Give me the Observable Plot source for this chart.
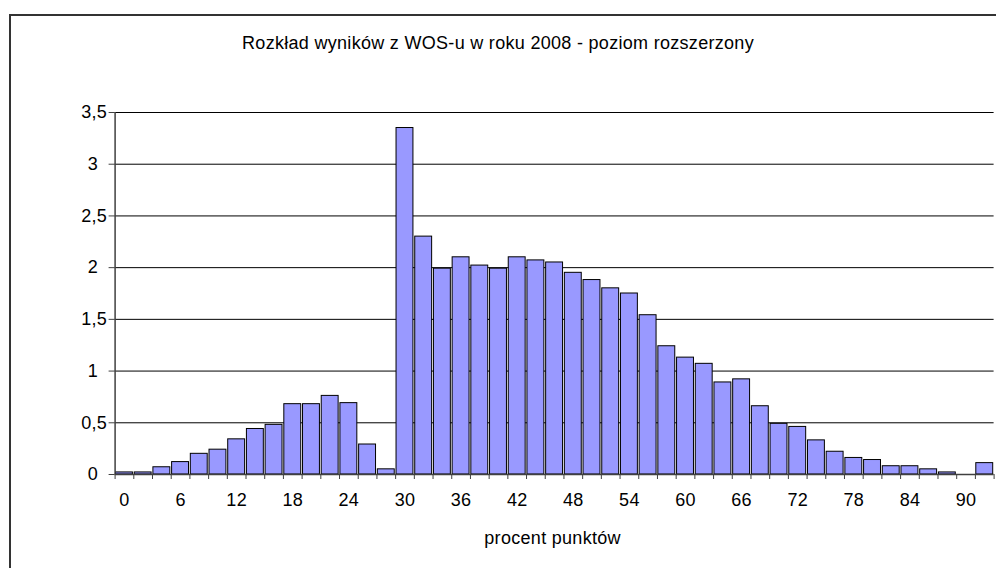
<!DOCTYPE html>
<html>
<head>
<meta charset="utf-8">
<script src="https://cdn.jsdelivr.net/npm/d3@7"></script>
<script src="https://cdn.jsdelivr.net/npm/@observablehq/plot@0.6"></script>
<style>
  body { margin: 0; background: #fff; }
  #wrap { position: relative; width: 996px; height: 568px; overflow: hidden; }
  #frame { position: absolute; left: 9px; top: 14px; right: -10px; bottom: -10px;
           border-left: 2px solid #333; border-top: 2px solid #333; pointer-events: none; }
  #wrap svg text { letter-spacing: 0.3px; }
</style>
</head>
<body>
<div id="wrap"><div id="frame"></div></div>
<script>
const chartTitle = "Rozkład wyników z WOS-u w roku 2008 - poziom rozszerzony";
const xAxisLabel = "procent punktów";

// categories: percent of points (bars every 2%)
const percents = [0, 2, 4, 6, 8, 10, 12, 14, 16, 18, 20, 22, 24, 26, 28, 30, 32, 34, 36, 38,
                  40, 42, 44, 46, 48, 50, 52, 54, 56, 58, 60, 62, 64, 66, 68, 70, 72, 74, 76, 78,
                  80, 82, 84, 86, 88, 90, 92];
// share of students (%)
const shares = [0.02, 0.02, 0.07, 0.12, 0.20, 0.24, 0.34, 0.44, 0.48, 0.68, 0.68, 0.76, 0.69, 0.29, 0.05,
                3.35, 2.30, 1.99, 2.10, 2.02, 1.99, 2.10, 2.07, 2.05, 1.95, 1.88, 1.80, 1.75, 1.54, 1.24,
                1.13, 1.07, 0.89, 0.92, 0.66, 0.49, 0.46, 0.33, 0.22, 0.16, 0.14, 0.08, 0.08, 0.05, 0.02,
                0, 0.11];

const xTickLabels = [0, 6, 12, 18, 24, 30, 36, 42, 48, 54, 60, 66, 72, 78, 84, 90];
const yTicks = [0, 0.5, 1, 1.5, 2, 2.5, 3, 3.5];

const data = percents.map((p, i) => ({p, v: shares[i]}));
const half = 1; // half-width of a category, in percent
const boundaries = [percents[0] - half, ...percents.map(p => p + half)];
const xMin = percents[0] - half, xMax = percents[percents.length - 1] + half;
const fmt = d => String(d).replace(".", ",");
const FS = 18;

const chart = Plot.plot({
  width: 996,
  height: 568,
  marginLeft: 114.6,
  marginRight: 2.4,
  marginTop: 112,
  marginBottom: 94,
  style: {fontFamily: "'Liberation Sans', Arial, sans-serif", fontSize: FS + "px", color: "#000", background: "transparent"},
  x: {domain: [xMin, xMax], axis: null},
  y: {domain: [0, 3.5], axis: null},
  marks: [
    Plot.ruleY(yTicks.filter(d => d > 0), {x1: xMin, x2: xMax, stroke: "#000", strokeWidth: 1}),
    Plot.rectY(data.filter(d => d.v > 0), {
      x1: d => d.p - half, x2: d => d.p + half, y1: 0, y2: "v",
      fill: "#9999FF", stroke: "#000", strokeWidth: 1, insetLeft: 0.9, insetRight: 0.9
    }),
    Plot.ruleY([0], {x1: xMin, x2: xMax, stroke: "#404040", strokeWidth: 1.5}),
    Plot.ruleX([xMin], {y1: 0, y2: 3.5, stroke: "#404040", strokeWidth: 1.5}),
    Plot.axisY(yTicks.filter(d => !Number.isInteger(d)), {label: null, tickSize: 6, tickPadding: 2, tickFormat: fmt, stroke: "#404040", fontSize: FS}),
    Plot.axisY(yTicks.filter(d => Number.isInteger(d)), {label: null, tickSize: 6, tickPadding: 11, tickFormat: fmt, stroke: "#404040", fontSize: FS}),
    Plot.axisX(boundaries, {label: null, tickSize: 5, tickFormat: () => "", stroke: "#404040"}),
    Plot.axisX(xTickLabels, {label: null, tickSize: 0, tickPadding: 19, tickFormat: d => String(d), fontSize: FS}),
    Plot.text([xAxisLabel], {frameAnchor: "bottom", dx: -2, dy: 64, fontSize: FS, lineAnchor: "middle"}),
    Plot.text([chartTitle], {frameAnchor: "top", dx: -56.6, dy: -69, fontSize: FS, lineAnchor: "middle"})
  ]
});
document.getElementById("wrap").prepend(chart);
</script>
</body>
</html>
